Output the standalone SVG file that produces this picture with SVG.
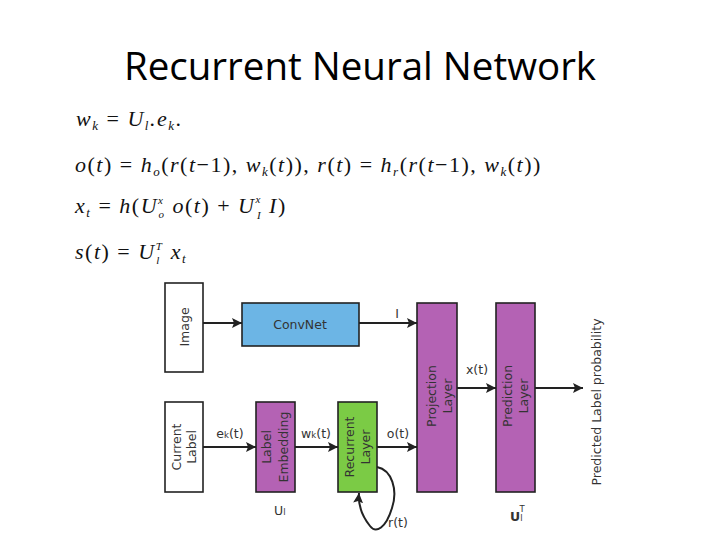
<svg xmlns="http://www.w3.org/2000/svg" width="720" height="540" viewBox="0 0 720 540">
<defs>
<marker id="ah" viewBox="0 0 10 10" refX="10" refY="5" markerWidth="10" markerHeight="10" markerUnits="userSpaceOnUse" orient="auto">
<path d="M0,0 L10,5 L0,10 L2,5 z" fill="#222"/>
</marker>
<style>
.title{font-family:"Open Sans","Liberation Sans",sans-serif;font-size:38.5px;fill:#000}
.math{font-family:"Liberation Serif",serif;font-size:22px;font-style:italic;fill:#111;letter-spacing:1.5px}
.up{font-style:normal}
.sub{font-size:13px}
.ss{font-size:11px}
.lbl{font-family:"DejaVu Sans","Liberation Sans",sans-serif;font-size:12.5px;fill:#333}
.box{stroke:#222;stroke-width:1.6}
.white{fill:#fff}
.purple{fill:#b462b4}
.green{fill:#7bcb45}
.blue{fill:#6cb5e5}
.conn{stroke:#222;stroke-width:2;fill:none}
</style>
</defs>
<rect width="720" height="540" fill="#fff"/>
<text class="title" x="360" y="80" text-anchor="middle">Recurrent Neural Network</text>

<g id="formulas">
<text class="math" x="76" y="126">w<tspan class="sub" dy="4">k</tspan><tspan class="up" dy="-4"> = </tspan>U<tspan class="sub" dy="4">l</tspan><tspan dy="-4">.e</tspan><tspan class="sub" dy="4">k</tspan><tspan class="up" dy="-4">.</tspan></text>
<text class="math" x="75" y="172">o<tspan class="up">(</tspan>t<tspan class="up">) = </tspan>h<tspan class="sub" dy="4">o</tspan><tspan class="up" dy="-4">(</tspan>r<tspan class="up">(</tspan>t<tspan class="up">−1), </tspan>w<tspan class="sub" dy="4">k</tspan><tspan class="up" dy="-4">(</tspan>t<tspan class="up">)), </tspan>r<tspan class="up">(</tspan>t<tspan class="up">) = </tspan>h<tspan class="sub" dy="4">r</tspan><tspan class="up" dy="-4">(</tspan>r<tspan class="up">(</tspan>t<tspan class="up">−1), </tspan>w<tspan class="sub" dy="4">k</tspan><tspan class="up" dy="-4">(</tspan>t<tspan class="up">))</tspan></text>
<text class="math" x="75" y="213">x<tspan class="sub" dy="4">t</tspan><tspan class="up" dy="-4"> = </tspan>h<tspan class="up">(</tspan>U<tspan class="ss" dy="-9">x</tspan><tspan class="ss" dx="-6" dy="14">o</tspan><tspan dy="-5"> o</tspan><tspan class="up">(</tspan>t<tspan class="up">) + </tspan>U<tspan class="ss" dy="-10">x</tspan><tspan class="ss" dx="-5" dy="16">I</tspan><tspan dy="-6"> I</tspan><tspan class="up">)</tspan></text>
<text class="math" x="75" y="259">s<tspan class="up">(</tspan>t<tspan class="up">) = </tspan>U<tspan class="ss" dy="-9">T</tspan><tspan class="ss" dx="-7" dy="14">l</tspan><tspan dx="3" dy="-5"> x</tspan><tspan class="sub" dy="4">t</tspan></text>
</g>

<g id="connectors">
<line class="conn" x1="203" y1="323" x2="242" y2="323" marker-end="url(#ah)"/>
<line class="conn" x1="359" y1="323" x2="417" y2="323" marker-end="url(#ah)"/>
<line class="conn" x1="203" y1="447" x2="256" y2="447" marker-end="url(#ah)"/>
<line class="conn" x1="295" y1="447" x2="338" y2="447" marker-end="url(#ah)"/>
<line class="conn" x1="377" y1="447" x2="417" y2="447" marker-end="url(#ah)"/>
<line class="conn" x1="457" y1="388" x2="496" y2="388" marker-end="url(#ah)"/>
<line class="conn" x1="535" y1="388" x2="583" y2="388" marker-end="url(#ah)"/>
<path class="conn" d="M377,467 C392,470 398,490 392,508 C386,528 376,534 370,526 C362,516 358,504 359,493" marker-end="url(#ah)"/>
<text class="lbl" x="397" y="318" text-anchor="middle">I</text>
<text class="lbl" x="230" y="438" text-anchor="middle">e<tspan font-size="8.5">k</tspan>(t)</text>
<text class="lbl" x="316" y="438" text-anchor="middle">w<tspan font-size="8.5">k</tspan>(t)</text>
<text class="lbl" x="398" y="438" text-anchor="middle">o(t)</text>
<text class="lbl" x="477" y="374" text-anchor="middle">x(t)</text>
<text class="lbl" x="398" y="527" text-anchor="middle">r(t)</text>
</g>

<g id="image">
<rect class="box white" x="165" y="283" width="38" height="89"/>
<text class="lbl" transform="translate(189,327) rotate(-90)" text-anchor="middle">Image</text>
</g>
<g id="convnet">
<rect class="box blue" x="242" y="303" width="117" height="43"/>
<text class="lbl" x="300" y="329" text-anchor="middle">ConvNet</text>
</g>
<g id="current-label">
<rect class="box white" x="165" y="402" width="38" height="90"/>
<text class="lbl" transform="translate(181,447) rotate(-90)" text-anchor="middle">Current</text>
<text class="lbl" transform="translate(196,447) rotate(-90)" text-anchor="middle">Label</text>
</g>
<g id="label-embedding">
<rect class="box purple" x="256" y="402" width="39" height="90"/>
<text class="lbl" transform="translate(271,447) rotate(-90)" text-anchor="middle">Label</text>
<text class="lbl" transform="translate(288,447) rotate(-90)" text-anchor="middle">Embedding</text>
<text class="lbl" x="274" y="515">U<tspan font-size="8.5">l</tspan></text>
</g>
<g id="recurrent-layer">
<rect class="box green" x="338" y="402" width="39" height="90"/>
<text class="lbl" transform="translate(354,447) rotate(-90)" text-anchor="middle">Recurrent</text>
<text class="lbl" transform="translate(370,447) rotate(-90)" text-anchor="middle">Layer</text>
</g>
<g id="projection-layer">
<rect class="box purple" x="417" y="303" width="40" height="189"/>
<text class="lbl" transform="translate(436,396) rotate(-90)" text-anchor="middle">Projection</text>
<text class="lbl" transform="translate(452,396) rotate(-90)" text-anchor="middle">Layer</text>
</g>
<g id="prediction-layer">
<rect class="box purple" x="496" y="303" width="39" height="189"/>
<text class="lbl" transform="translate(512,396) rotate(-90)" text-anchor="middle">Prediction</text>
<text class="lbl" transform="translate(528,396) rotate(-90)" text-anchor="middle">Layer</text>
<text class="lbl" x="510" y="521" font-weight="bold">U<tspan font-size="8.5" font-weight="normal">l</tspan><tspan font-size="8.5" font-weight="normal" dx="-3" dy="-9">T</tspan></text>
</g>
<g id="output">
<text class="lbl" transform="translate(601,402) rotate(-90)" text-anchor="middle">Predicted Label probability</text>
</g>
</svg>
